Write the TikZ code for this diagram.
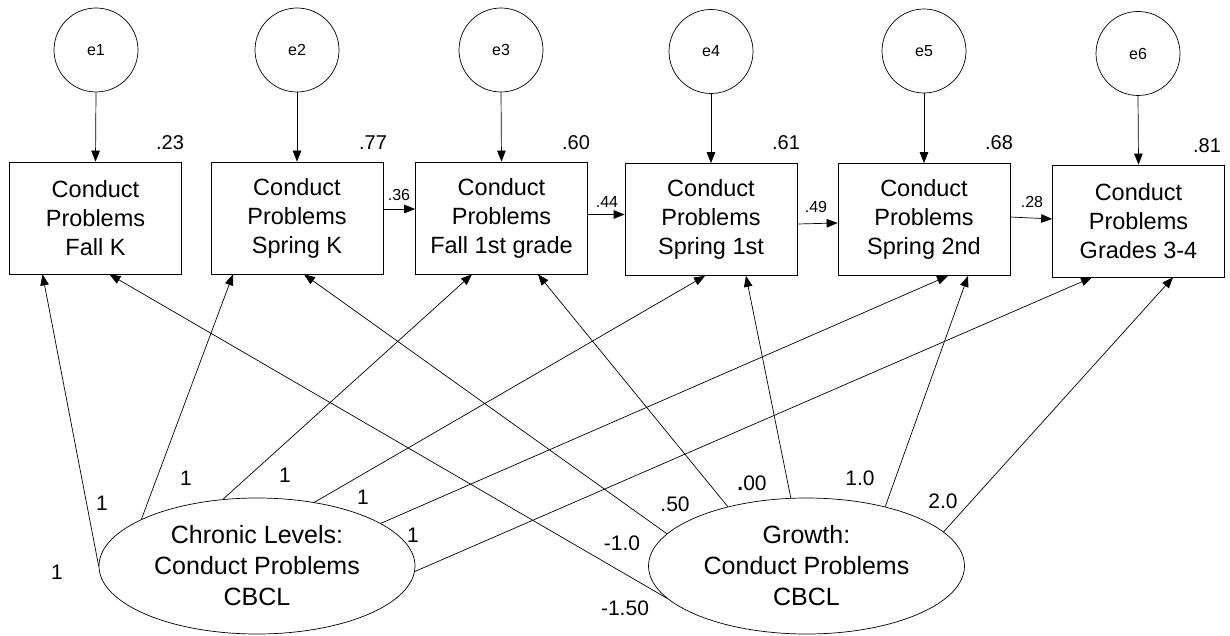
\documentclass[tikz,border=0pt]{standalone}
\usepackage{fontspec}
\setmainfont{Liberation Sans}
\usetikzlibrary{arrows.meta,shapes.geometric}

\begin{document}
\begin{tikzpicture}[x=1pt,y=-1pt,line width=0.7pt,>={Triangle[length=11pt,width=8.5pt]},
   err/.style={draw,circle,minimum size=84pt,inner sep=0pt,font=\fontsize{16}{18}\selectfont},
   obs/.style={draw,rectangle,minimum width=172pt,minimum height=112pt,inner sep=0pt,align=center,font=\fontsize{23.5}{29}\selectfont},
   lat/.style={draw,ellipse,minimum width=316pt,minimum height=136pt,inner sep=0pt,align=center,font=\fontsize{25}{31}\selectfont},
   rsq/.style={font=\fontsize{20}{22}\selectfont},
   beta/.style={font=\fontsize{16}{18}\selectfont},
   wt/.style={font=\fontsize{21}{23}\selectfont}]
   \useasboundingbox (0,0) rectangle (1230,636);

   % error terms
   \node[err] (e1) at (96,50) {e1};
   \node[err] (e2) at (297,50) {e2};
   \node[err] (e3) at (501,50) {e3};
   \node[err] (e4) at (711,51.5) {e4};
   \node[err] (e5) at (924,51) {e5};
   \node[err] (e6) at (1138,53.5) {e6};

   % observed measures
   \node[obs] (fk) at (95.5,218) {Conduct\\Problems\\Fall K};
   \node[obs] (sk) at (297,218) {Conduct\\Problems\\Spring K};
   \node[obs] (f1) at (501.5,218) {Conduct\\Problems\\Fall 1st grade};
   \node[obs] (s1) at (711,219.5) {Conduct\\Problems\\Spring 1st};
   \node[obs] (s2) at (924,219.5) {Conduct\\Problems\\Spring 2nd};
   \node[obs] (g34) at (1138.5,221) {Conduct\\Problems\\Grades 3-4};

   % latent factors
   \node[lat] (chr) at (257,566) {Chronic Levels:\\Conduct Problems\\CBCL};
   \node[lat] (gro) at (806.5,566) {Growth:\\Conduct Problems\\CBCL};

   % r-squared
   \node[rsq] (r1) at (170,143) {.23};
   \node[rsq] (r2) at (373,143) {.77};
   \node[rsq] (r3) at (576,143) {.60};
   \node[rsq] (r4) at (786,143) {.61};
   \node[rsq] (r5) at (999,143) {.68};
   \node[rsq] (r6) at (1207,146) {.81};

   \path[->]
    (e1.south) edge (fk.north)
    (e2.south) edge (sk.north)
    (e3.south) edge (f1.north)
    (e4.south) edge (s1.north)
    (e5.south) edge (s2.north)
    (e6.south) edge (g34.north);

   % stability paths
   \path[->]
    ([yshift=9pt]sk.east) edge ([yshift=9pt]sk.east -| f1.west)
    ([yshift=3.5pt]f1.east) edge ([yshift=3.5pt]f1.east -| s1.west)
    ([yshift=-4.5pt]s1.east) edge ([yshift=-3.5pt]s2.west)
    ([yshift=2.5pt]s2.east) edge ([yshift=2pt]g34.west);
   \node[beta] (b1) at (399,195) {.36};
   \node[beta] (b2) at (607,202) {.44};
   \node[beta] (b3) at (816,207) {.49};
   \node[beta] (b4) at (1032,202) {.28};

   % loadings
   \path[->]
    (chr.180) edge ([xshift=-53pt]fk.south)
    (chr.158) edge ([xshift=-64pt]sk.south)
    (chr.117) edge ([xshift=-29.5pt]f1.south)
    (chr.48) edge ([xshift=-6pt]s1.south)
    (chr.19) edge ([xshift=24pt]s2.south)
    (chr.-2) edge ([xshift=-46.5pt]g34.south)
    (gro.193) edge ([xshift=14pt]fk.south)
    (gro.167) edge ([xshift=7pt]sk.south)
    (gro.143) edge ([xshift=36.5pt]f1.south)
    (gro.103) edge ([xshift=35pt]s1.south)
    (gro.37) edge ([xshift=44pt]s2.south)
    (gro.14) edge ([xshift=34.5pt]g34.south);

   \node[wt] (c1) at (57,572) {1};
   \node[wt] (c2) at (102,503) {1};
   \node[wt] (c3) at (186,478) {1};
   \node[wt] (c4) at (285,475) {1};
   \node[wt] (c5) at (363,497) {1};
   \node[wt] (c6) at (413,535) {1};
   \node[wt] (g1) at (625,608) {-1.50};
   \node[wt] (g2) at (622,543) {-1.0};
   \node[wt] (g3) at (675,504) {.50};
   \node[wt] (g4) at (752,483) {\textbf{.}00};
   \node[wt] (g5) at (860,478) {1.0};
   \node[wt] (g6) at (943,501) {2.0};
\end{tikzpicture}
\end{document}
